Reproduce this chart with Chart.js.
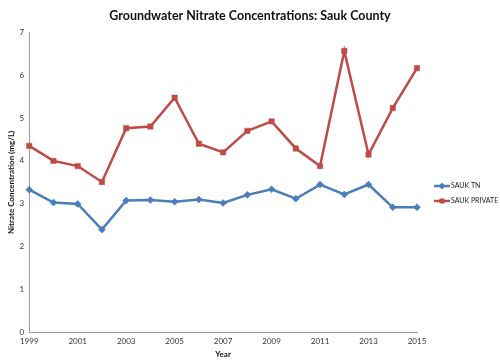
<!DOCTYPE html>
<html>
<head>
<meta charset="utf-8">
<script src="https://cdn.jsdelivr.net/npm/chart.js@4/dist/chart.umd.min.js"></script>
<style>
  html, body { margin: 0; padding: 0; background: #fff; }
  #wrap { width: 500px; height: 363px; }
</style>
</head>
<body>
<div id="wrap"><canvas id="myChart"></canvas></div>
<script>
var years = ['1999', '2000', '2001', '2002', '2003', '2004', '2005', '2006', '2007',
             '2008', '2009', '2010', '2011', '2012', '2013', '2014', '2015'];
var saukTN = [3.33, 3.03, 3.0, 2.4, 3.08, 3.09, 3.05, 3.1, 3.02,
              3.21, 3.34, 3.12, 3.45, 3.22, 3.45, 2.92, 2.92];
var saukPrivate = [4.35, 4.0, 3.88, 3.51, 4.76, 4.8, 5.47, 4.4, 4.2,
                   4.7, 4.92, 4.29, 3.88, 6.56, 4.15, 5.23, 6.16];
var yTicks = [0, 1, 2, 3, 4, 5, 6, 7];
var titleText = 'Groundwater Nitrate Concentrations: Sauk County';

var blue = '#4a7ebb';
var red = '#be4b48';
var fontFam = 'Lato, "Open Sans", sans-serif';

// title and legend drawn by hand so they sit where the original ones sit
var extras = {
  id: 'extras',
  afterDraw: function (chart) {
    var c = chart.ctx;
    c.save();
    c.fillStyle = '#111';
    c.font = 'bold 12.5px ' + fontFam;
    c.textAlign = 'center';
    c.textBaseline = 'middle';
    c.fillText(titleText, 250, 16);

    var items = [
      { label: 'SAUK TN', color: blue, style: 'rectRot' },
      { label: 'SAUK PRIVATE', color: red, style: 'rect' }
    ];
    c.textAlign = 'left';
    items.forEach(function (it, i) {
      var y = 186 + i * 15;
      c.strokeStyle = it.color;
      c.lineWidth = 2.5;
      c.beginPath();
      c.moveTo(434, y);
      c.lineTo(450, y);
      c.stroke();
      c.fillStyle = it.color;
      Chart.helpers.drawPoint(c, { pointStyle: it.style, radius: 3.5, borderWidth: 0 }, 442, y);
      c.fillStyle = '#222';
      c.font = '7px ' + fontFam;
      c.fillText(it.label, 451, y);
    });
    c.restore();
  }
};

new Chart(document.getElementById('myChart'), {
  type: 'line',
  data: {
    labels: years,
    datasets: [{
      label: 'SAUK TN',
      data: saukTN,
      borderColor: blue,
      backgroundColor: blue,
      borderWidth: 2.5,
      pointStyle: 'rectRot',
      pointRadius: 3.5,
      pointBorderWidth: 0.5,
      tension: 0
    }, {
      label: 'SAUK PRIVATE',
      data: saukPrivate,
      borderColor: red,
      backgroundColor: red,
      borderWidth: 2.5,
      pointStyle: 'rect',
      pointRadius: 3.8,
      pointBorderWidth: 0.5,
      tension: 0
    }]
  },
  options: {
    responsive: true,
    maintainAspectRatio: false,
    animation: false,
    layout: { padding: { left: 7, right: 83, top: 32, bottom: 4 } },
    plugins: {
      legend: { display: false },
      tooltip: { enabled: false },
      title: { display: false }
    },
    scales: {
      x: {
        offset: false,
        grid: { display: false, drawTicks: true, tickLength: 2, color: '#999' },
        border: { color: '#999', width: 1 },
        ticks: {
          autoSkip: false,
          maxRotation: 0,
          color: '#333',
          font: { family: fontFam, size: 8 },
          padding: 2,
          callback: function (v, i) { return i % 2 === 0 ? years[i] : ''; }
        },
        title: {
          display: true,
          text: 'Year',
          color: '#111',
          font: { family: fontFam, size: 8, weight: 'bold' },
          padding: { top: 1, bottom: 0 }
        }
      },
      y: {
        min: 0,
        max: 7,
        afterBuildTicks: function (axis) {
          axis.ticks = yTicks.map(function (v) { return { value: v }; });
        },
        grid: { display: false, drawTicks: true, tickLength: 2, color: '#999' },
        border: { color: '#999', width: 1 },
        ticks: {
          color: '#333',
          font: { family: fontFam, size: 8 },
          padding: 3
        },
        title: {
          display: true,
          text: 'Nitrate Concentration (mg/L)',
          color: '#111',
          font: { family: fontFam, size: 8, weight: 'bold' },
          padding: { top: 0, bottom: 0 }
        }
      }
    }
  },
  plugins: [extras]
});
</script>
</body>
</html>
